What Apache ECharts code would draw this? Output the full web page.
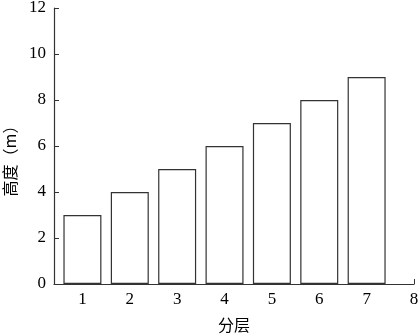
<!DOCTYPE html>
<html>
<head>
<meta charset="utf-8">
<script src="https://cdn.jsdelivr.net/npm/echarts@6/dist/echarts.min.js"></script>
<style>
  html, body { margin: 0; padding: 0; background: #fff; }
  #chart { width: 420px; height: 335px; }
</style>
</head>
<body>
<div id="chart"></div>
<script>
// 分层 / 高度
const layers = [1, 2, 3, 4, 5, 6, 7];
const heights = [3, 4, 5, 6, 7, 8, 9];
const xTicks = [1, 2, 3, 4, 5, 6, 7, 8];

const serif = "Liberation Serif, Times New Roman, serif";
const cjk = "Noto Sans CJK SC";
const lineColor = "#333";

const chart = echarts.init(document.getElementById("chart"));

const option = {
  animation: false,
  backgroundColor: "#fff",
  textStyle: { fontFamily: serif },
  grid: {
    left: 54,
    right: 6,
    top: 8,
    bottom: 51,
    outerBoundsMode: "none",
    containLabel: false,
  },
  xAxis: {
    type: "value",
    min: 0.4,
    max: 8,
    name: "分层",
    nameLocation: "middle",
    nameGap: 33,
    nameTextStyle: { fontFamily: cjk, fontSize: 16, color: "#000" },
    axisLine: { lineStyle: { color: lineColor, width: 1.2 } },
    axisTick: {
      inside: true,
      length: 5,
      customValues: xTicks,
      lineStyle: { color: lineColor },
    },
    axisLabel: {
      customValues: xTicks,
      fontFamily: serif,
      fontSize: 17,
      color: "#000",
      margin: 7,
    },
    splitLine: { show: false },
  },
  yAxis: {
    type: "value",
    min: 0,
    max: 12,
    interval: 2,
    name: "高度（m）",
    nameLocation: "middle",
    nameGap: 34,
    nameRotate: 90,
    nameTextStyle: {
      fontFamily: cjk,
      fontSize: 16,
      color: "#000",
      padding: [0, 22, 0, 0],
    },
    axisLine: { show: true, lineStyle: { color: lineColor, width: 1.2 } },
    axisTick: { show: true, inside: true, length: 5, lineStyle: { color: lineColor } },
    axisLabel: { fontFamily: serif, fontSize: 17, color: "#000", margin: 8 },
    splitLine: { show: false },
  },
  series: [
    {
      type: "bar",
      data: layers.map((l, i) => [l, heights[i]]),
      barWidth: 38,
      itemStyle: {
        color: "#fff",
        borderColor: lineColor,
        borderWidth: 1.2,
      },
    },
  ],
};

chart.setOption(option);
</script>
</body>
</html>
